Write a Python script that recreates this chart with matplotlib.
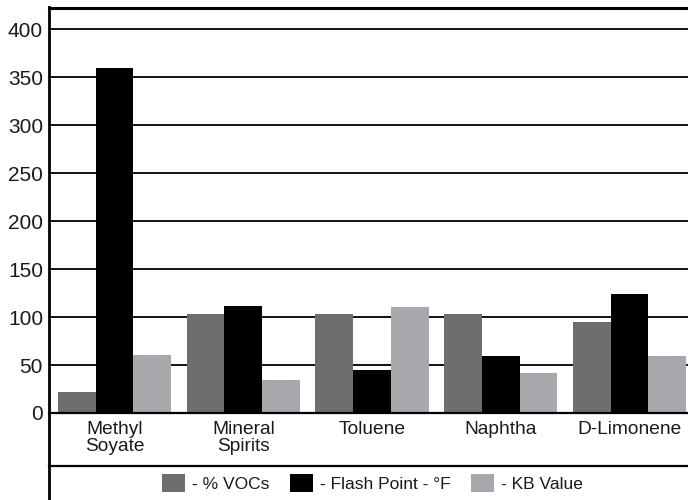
import numpy as np
import matplotlib.pyplot as plt
from matplotlib.lines import Line2D

plt.rcParams['font.family'] = ['Liberation Sans', 'DejaVu Sans']

# data
solvents = ['Methyl\nSoyate', 'Mineral\nSpirits', 'Toluene', 'Naphtha', 'D-Limonene']
vocs = [22, 103, 103, 103, 95]
flash_point = [360, 111, 45, 59, 124]
kb_value = [60, 34, 110, 42, 59]
yticks = [0, 50, 100, 150, 200, 250, 300, 350, 400]

barWidth = 0.293
txt = '#1a1a1a'

fig = plt.figure(figsize=(6.88, 5), dpi=100)
ax = fig.add_axes([49/688, 1 - 413/500, 639/688, 405/500])

r = np.arange(len(solvents))
ax.bar(r - barWidth, vocs, width=barWidth, color='#6d6e70', label='- % VOCs', zorder=3)
ax.bar(r, flash_point, width=barWidth, color='#000000', label='- Flash Point - °F', zorder=3)
ax.bar(r + barWidth, kb_value, width=barWidth, color='#a7a8ab', label='- KB Value', zorder=3)

ax.set_xlim(-0.509, 4.454)
ax.set_ylim(0, 422)
ax.set_yticks(yticks)
ax.set_xticks(r)
ax.set_xticklabels(solvents, fontsize=13.8, color=txt, linespacing=1.0)
ax.tick_params(axis='x', length=0, pad=5.5)
ax.tick_params(axis='y', length=0, pad=4.3, labelsize=15, labelcolor=txt)

ax.yaxis.grid(True, color='#111111', lw=1.4, zorder=1)
ax.spines['right'].set_visible(False)
ax.spines['left'].set_visible(False)
ax.spines['top'].set_linewidth(2.2)
ax.spines['bottom'].set_linewidth(1.6)
ax.spines['bottom'].set_zorder(4)

# outer frame: left rule down to the bottom, separator above the legend row
fig.add_artist(Line2D([49/688, 49/688], [0, 1 - 7/500], color='black', lw=2.0))
fig.add_artist(Line2D([49/688, 1], [1 - 465.5/500, 1 - 465.5/500], color='black', lw=1.6))

leg = fig.legend(loc='center', bbox_to_anchor=(0.5414, 1 - 483/500), ncol=3, frameon=False,
                 prop={'size': 12.5}, handlelength=1.3, handleheight=1.25,
                 handletextpad=0.4, columnspacing=1.2, borderpad=0, borderaxespad=0)
for t in leg.get_texts():
    t.set_color(txt)

fig.savefig('out.png', dpi=100)
